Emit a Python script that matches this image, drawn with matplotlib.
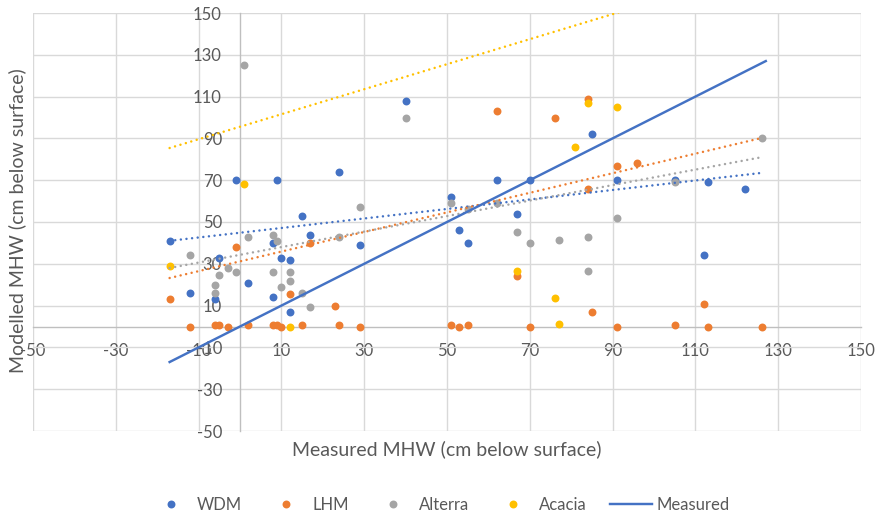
import numpy as np
import matplotlib.pyplot as plt
from matplotlib.lines import Line2D

plt.rcParams['font.family'] = ['Lato', 'DejaVu Sans']
plt.rcParams['axes.unicode_minus'] = False

# modelled vs measured mean high water (cm below surface)
wdm_x = [-17, -12, -6, -5, -1, 2, 8, 8, 9, 10, 12, 12, 15, 17, 24, 29, 40, 51, 53, 55,
         62, 67, 70, 85, 91, 105, 112, 113, 122]
wdm_y = [41, 16, 13, 33, 70, 21, 40, 14, 70, 33, 32, 7, 53, 44, 74, 39, 108, 62, 46, 40,
         70, 54, 70, 92, 70, 70, 34, 69, 66]

lhm_x = [-17, -12, -6, -5, -3, -1, 2, 8, 9, 10, 12, 15, 17, 23, 24, 29, 51, 53, 55, 62,
         67, 70, 76, 84, 84, 85, 91, 91, 96, 105, 112, 113, 126]
lhm_y = [13, 0, 0.5, 0.5, 0, 38, 0.5, 0.5, 0.5, 0, 15.5, 0.5, 40, 10, 0.5, 0, 0.5, 0, 0.5, 103,
         24, 0, 100, 109, 66, 7, 77, 0, 78, 0.5, 11, 0, 0]

alterra_x = [-12, -6, -6, -5, -3, -1, 1, 2, 8, 8, 9, 10, 12, 12, 15, 17, 24, 29, 40, 51,
             55, 62, 67, 70, 77, 84, 84, 91, 105, 126]
alterra_y = [34, 20, 16, 24.5, 28, 26, 125, 43, 44, 26, 41, 19, 26, 22, 16, 9.5, 43, 57, 100, 59,
             56, 59, 45, 40, 41.5, 43, 26.5, 52, 69, 90]

acacia_x = [-17, 1, 12, 67, 76, 77, 81, 84, 91]
acacia_y = [29, 68, 0, 26.5, 13.5, 1, 86, 107, 105]

# linear trendlines (start/end over the measured range)
trend_x = [-17, 126]
wdm_trend = [41, 73.5]
lhm_trend = [23.2, 90.2]
alterra_trend = [28, 81]
acacia_trend = [85.4, 171]

# 1:1 line
measured = [-17, 127]

c_wdm = '#4472C4'
c_lhm = '#ED7D31'
c_alt = '#A5A5A5'
c_aca = '#FFC000'
txt = '#595959'

fig = plt.figure(figsize=(8.81, 5.19), dpi=100)
ax = fig.add_axes([33/881, 88/519, 828/881, 418/519])

ms = 5.7
ax.plot(wdm_x, wdm_y, 'o', ms=ms, color=c_wdm, mew=0, zorder=3)
ax.plot(lhm_x, lhm_y, 'o', ms=ms, color=c_lhm, mew=0, zorder=3)
ax.plot(alterra_x, alterra_y, 'o', ms=ms, color=c_alt, mew=0, zorder=3)
ax.plot(acacia_x, acacia_y, 'o', ms=ms, color=c_aca, mew=0, zorder=3)

dot = (0, (0.01, 2.25))
for ty, c in [(wdm_trend, c_wdm), (lhm_trend, c_lhm), (alterra_trend, c_alt), (acacia_trend, c_aca)]:
    ax.plot(trend_x, ty, linestyle=dot, lw=1.8, color=c, dash_capstyle='round', zorder=4)

ax.plot(measured, measured, '-', lw=1.75, color=c_wdm, zorder=5)

ax.set_xlim(-50, 150)
ax.set_ylim(-50, 150)
ax.set_xticks(np.arange(-50, 151, 20))
ax.set_yticks(np.arange(-50, 151, 20))
ax.grid(True, color='#D9D9D9', lw=1.0)
ax.set_axisbelow(True)

for s in ['top', 'right']:
    ax.spines[s].set_visible(False)
ax.spines['left'].set_position(('data', 0))
ax.spines['bottom'].set_position(('data', 0))
for s in ['left', 'bottom']:
    ax.spines[s].set_color('#BFBFBF')
    ax.spines[s].set_linewidth(1.0)
ax.tick_params(length=0, labelsize=12, labelcolor=txt)
ax.tick_params(axis='y', pad=13)
ax.tick_params(axis='x', pad=12)

fig.text(447/881, 1 - 449/519, 'Measured MHW (cm below surface)', ha='center', va='center',
         fontsize=14, color=txt)
fig.text(17/881, 1 - 221/519, 'Modelled MHW (cm below surface)', ha='center', va='center',
         rotation=90, fontsize=14, color=txt)

handles = [Line2D([], [], ls='', marker='o', ms=ms, mew=0, color=c) for c in [c_wdm, c_lhm, c_alt, c_aca]]
handles.append(Line2D([], [], ls='-', lw=1.75, color=c_wdm))
fig.legend(handles, ['WDM', 'LHM', 'Alterra', 'Acacia', 'Measured'], loc='center',
           bbox_to_anchor=(440/881, 1 - 505/519), ncol=5, frameon=False, fontsize=12,
           handlelength=2.5, handletextpad=0.3, columnspacing=1.4, labelcolor=txt)

fig.savefig('out.png', dpi=100)
